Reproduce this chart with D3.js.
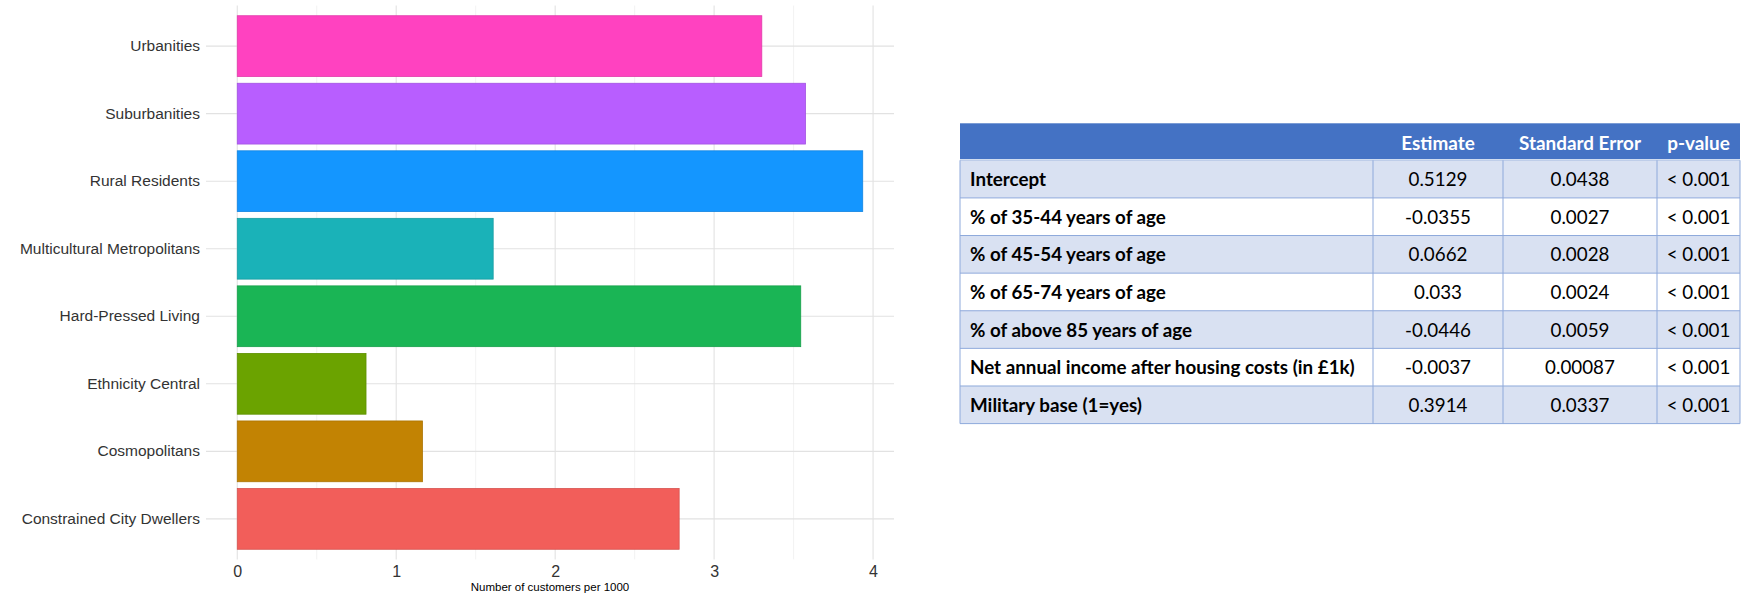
<!DOCTYPE html>
<html>
<head>
<meta charset="utf-8">
<script src="https://cdn.jsdelivr.net/npm/d3@7"></script>
<style>
  html, body { margin: 0; padding: 0; background: #ffffff; }
  svg { display: block; }
</style>
</head>
<body>
<script>
// ---------------- DATA ----------------
const categories = ["Constrained City Dwellers", "Cosmopolitans", "Ethnicity Central", "Hard-Pressed Living",
                    "Multicultural Metropolitans", "Rural Residents", "Suburbanities", "Urbanities"];
const customersPer1000 = [2.78, 1.165, 0.81, 3.545, 1.61, 3.935, 3.575, 3.30];
const barColors = ["#F25E5A", "#C28303", "#6BA300", "#1AB555", "#1AB2B8", "#1496FF", "#B85EFF", "#FF42C0"];
const xTicks = [0, 1, 2, 3, 4];
const xTitle = "Number of customers per 1000";

const tableHeaders = ["", "Estimate", "Standard Error", "p-value"];
const rowLabels = ["Intercept", "% of 35-44 years of age", "% of 45-54 years of age", "% of 65-74 years of age",
                   "% of above 85 years of age", "Net annual income after housing costs (in £1k)", "Military base (1=yes)"];
const estimates = ["0.5129", "-0.0355", "0.0662", "0.033", "-0.0446", "-0.0037", "0.3914"];
const stdErrors = ["0.0438", "0.0027", "0.0028", "0.0024", "0.0059", "0.00087", "0.0337"];
const pValues = ["< 0.001", "< 0.001", "< 0.001", "< 0.001", "< 0.001", "< 0.001", "< 0.001"];

// ---------------- SVG ----------------
const W = 1757, H = 600;
const svg = d3.select("body").append("svg").attr("width", W).attr("height", H);

// ---------------- BAR CHART ----------------
const panel = { left: 206, right: 894, top: 5.6, bottom: 559.4 };
const xMax = d3.max(customersPer1000);
const x = d3.scaleLinear()
  .domain([-xMax * 0.05, xMax * 1.05])
  .range([panel.left, panel.right]);
const y = d3.scaleBand()
  .domain(categories.slice().reverse())
  .range([panel.top, panel.bottom])
  .paddingInner(0.1)
  .paddingOuter(0.15);

const chart = svg.append("g");

// minor vertical grid
const minorTicks = xTicks.slice(0, -1).map(t => t + 0.5);
chart.append("g").selectAll("line").data(minorTicks).join("line")
  .attr("x1", d => x(d)).attr("x2", d => x(d))
  .attr("y1", panel.top).attr("y2", panel.bottom)
  .attr("stroke", "#EFEFEF").attr("stroke-width", 0.8);
// major vertical grid
chart.append("g").selectAll("line").data(xTicks).join("line")
  .attr("x1", d => x(d)).attr("x2", d => x(d))
  .attr("y1", panel.top).attr("y2", panel.bottom)
  .attr("stroke", "#E2E2E2").attr("stroke-width", 1.1);
// horizontal grid
chart.append("g").selectAll("line").data(categories).join("line")
  .attr("x1", panel.left).attr("x2", panel.right)
  .attr("y1", d => y(d) + y.bandwidth() / 2).attr("y2", d => y(d) + y.bandwidth() / 2)
  .attr("stroke", "#E2E2E2").attr("stroke-width", 1.1);

// bars
chart.append("g").selectAll("rect").data(categories).join("rect")
  .attr("x", x(0))
  .attr("y", d => y(d))
  .attr("width", (d, i) => x(customersPer1000[i]) - x(0))
  .attr("height", y.bandwidth())
  .attr("fill", (d, i) => barColors[i])
  .attr("stroke", (d, i) => d3.color(barColors[i]).darker(0.35))
  .attr("stroke-width", 0.8);

// y axis
const yAxis = chart.append("g")
  .attr("transform", `translate(${panel.left},0)`)
  .call(d3.axisLeft(y).tickSize(0).tickPadding(6));
yAxis.select(".domain").remove();
yAxis.selectAll("text")
  .attr("font-family", "'Liberation Sans', Arial, sans-serif")
  .attr("font-size", "15.5px")
  .attr("fill", "#333333");

// x axis
const xAxis = chart.append("g")
  .attr("transform", `translate(0,${panel.bottom})`)
  .call(d3.axisBottom(x).tickValues(xTicks).tickFormat(d3.format("d")).tickSize(0).tickPadding(6.2));
xAxis.select(".domain").remove();
xAxis.selectAll("text")
  .attr("font-family", "'Liberation Sans', Arial, sans-serif")
  .attr("font-size", "16px")
  .attr("fill", "#333333");

chart.append("text")
  .attr("x", (panel.left + panel.right) / 2)
  .attr("y", 591)
  .attr("text-anchor", "middle")
  .attr("font-family", "'Liberation Sans', Arial, sans-serif")
  .attr("font-size", "11.5px")
  .attr("fill", "#000000")
  .text(xTitle);

// ---------------- TABLE ----------------
const tableFont = "Lato, 'Open Sans', sans-serif";
// calibrate font size so the longest label matches its width in the reference
function fitSize(text, weight, target) {
  const t = svg.append("text").attr("font-family", tableFont).attr("font-weight", weight)
    .attr("font-size", "100px").text(text);
  const w = t.node().getComputedTextLength();
  t.remove();
  return 100 * target / w;
}
const bodySize = fitSize(rowLabels[5], "bold", 385);
const headSize = fitSize(tableHeaders[2], "bold", 122);

const cols = [960, 1373, 1503, 1657, 1740];
const headTop = 123.3, headBottom = 159.2;
const rowTop = 160.3, rowH = (423.6 - 160.3) / rowLabels.length;
const rowScale = d3.scaleBand().domain(d3.range(rowLabels.length))
  .range([rowTop, rowTop + rowH * rowLabels.length]).padding(0);

const table = svg.append("g");
table.append("rect")
  .attr("x", cols[0]).attr("y", headTop)
  .attr("width", cols[4] - cols[0]).attr("height", headBottom - headTop)
  .attr("fill", "#4472C4");

table.append("g").selectAll("rect").data(rowLabels).join("rect")
  .attr("x", cols[0]).attr("y", (d, i) => rowScale(i))
  .attr("width", cols[4] - cols[0]).attr("height", rowScale.bandwidth())
  .attr("fill", (d, i) => i % 2 === 0 ? "#D9E1F2" : "#FFFFFF");

// row lines
table.append("g").selectAll("line").data(d3.range(rowLabels.length + 1)).join("line")
  .attr("x1", cols[0]).attr("x2", cols[4])
  .attr("y1", i => rowTop + i * rowH).attr("y2", i => rowTop + i * rowH)
  .attr("stroke", i => i === 0 ? "#B4C6E7" : "#8EA9DB").attr("stroke-width", 1);
// column lines
table.append("g").selectAll("line").data(cols).join("line")
  .attr("x1", d => d).attr("x2", d => d)
  .attr("y1", rowTop).attr("y2", rowTop + rowH * rowLabels.length)
  .attr("stroke", "#8EA9DB").attr("stroke-width", 1);

// header text
table.append("g").selectAll("text").data(tableHeaders.slice(1)).join("text")
  .attr("x", (d, i) => (cols[i + 1] + cols[i + 2]) / 2)
  .attr("y", 150)
  .attr("text-anchor", "middle")
  .attr("font-family", tableFont).attr("font-weight", "bold")
  .attr("font-size", headSize + "px")
  .attr("fill", "#FFFFFF")
  .text(d => d);

// body text
const bodyG = table.append("g")
  .attr("font-family", tableFont).attr("font-size", bodySize + "px").attr("fill", "#000000");
bodyG.selectAll("text.label").data(rowLabels).join("text")
  .attr("class", "label")
  .attr("x", 970)
  .attr("y", (d, i) => rowScale(i) + rowScale.bandwidth() / 2)
  .attr("dy", "0.38em")
  .attr("font-weight", "bold")
  .text(d => d);
[estimates, stdErrors, pValues].forEach((colVals, c) => {
  bodyG.append("g").selectAll("text").data(colVals).join("text")
    .attr("x", (cols[c + 1] + cols[c + 2]) / 2)
    .attr("y", (d, i) => rowScale(i) + rowScale.bandwidth() / 2)
    .attr("dy", "0.38em")
    .attr("text-anchor", "middle")
    .text(d => d);
});
</script>
</body>
</html>
